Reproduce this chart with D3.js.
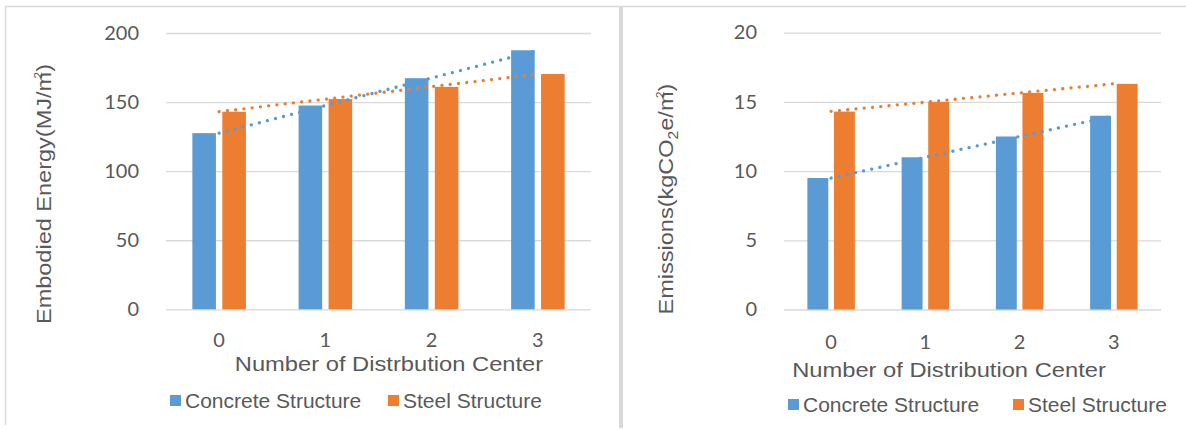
<!DOCTYPE html>
<html>
<head>
<meta charset="utf-8">
<script src="https://cdn.jsdelivr.net/npm/d3@7"></script>
<style>
  html, body { margin: 0; padding: 0; background: #fff; }
  svg { display: block; }
</style>
</head>
<body>
<svg id="chart" width="1186" height="430"></svg>
<script>
// Categories: number of distribution centers
const categories = ["0", "1", "2", "3"];
const seriesNames = ["Concrete Structure", "Steel Structure"];

// Embodied energy (MJ/m²)
const energyConcrete = [127.5, 147.5, 167.3, 187.5];
const energySteel = [143.0, 152.2, 161.0, 170.3];
const energyTicks = [0, 50, 100, 150, 200];

// Emissions (kgCO2e/m²)
const emissionConcrete = [9.5, 11.0, 12.5, 14.0];
const emissionSteel = [14.3, 15.0, 15.65, 16.3];
const emissionTicks = [0, 5, 10, 15, 20];

const colors = ["#5B9BD5", "#ED7D31"];
const textColor = "#595959";
const gridColor = "#D9D9D9";
const titleFont = "'Liberation Sans', Arial, sans-serif";
const tickFont = "Lato, 'Open Sans', sans-serif";

const svg = d3.select("#chart");

// Panel frame
const frame = svg.append("g");
frame.append("line").attr("x1", 5).attr("x2", 1186).attr("y1", 6.5).attr("y2", 6.5)
  .attr("stroke", gridColor).attr("stroke-width", 1.5);
frame.append("line").attr("x1", 5.5).attr("x2", 5.5).attr("y1", 6).attr("y2", 425)
  .attr("stroke", gridColor).attr("stroke-width", 1.5);
frame.append("line").attr("x1", 621).attr("x2", 621).attr("y1", 6).attr("y2", 428)
  .attr("stroke", gridColor).attr("stroke-width", 4);

// Least-squares linear fit over category index
function linearFit(values) {
  const n = values.length;
  const xs = d3.range(n);
  const mx = d3.mean(xs), my = d3.mean(values);
  const sxy = d3.sum(xs, (x, i) => (x - mx) * (values[i] - my));
  const sxx = d3.sum(xs, x => (x - mx) * (x - mx));
  const slope = sxy / sxx;
  return x => my + slope * (x - mx);
}

function drawPanel(cfg) {
  const g = svg.append("g");
  const x = d3.scaleBand().domain(categories).range([cfg.left, cfg.right]).padding(0);
  const bw = x.bandwidth();
  const inner = d3.scaleBand().domain(seriesNames)
    .range([0.248 * bw, 0.752 * bw]).paddingInner(0.213).paddingOuter(0);
  const y = d3.scaleLinear().domain([cfg.ticks[0], cfg.ticks[cfg.ticks.length - 1]])
    .range([cfg.bottom, cfg.top]);

  // Gridlines
  const yAxis = d3.axisLeft(y).tickValues(cfg.ticks).tickSize(-(cfg.right - cfg.left)).tickFormat("");
  const ga = g.append("g").attr("transform", `translate(${cfg.left},0)`).call(yAxis);
  ga.select(".domain").remove();
  ga.selectAll(".tick line").attr("stroke", gridColor).attr("stroke-width", 1.3);

  // Y tick labels
  g.selectAll(".ylab").data(cfg.ticks).join("text")
    .attr("transform", d => `translate(${cfg.left - 27},${y(d) + 6.6}) scale(1.08,1)`)
    .attr("text-anchor", "end")
    .attr("font-family", tickFont).attr("font-size", 18.5)
    .attr("fill", textColor)
    .text(d => d);

  // Bars
  const series = [cfg.a, cfg.b];
  series.forEach((vals, si) => {
    g.selectAll(null).data(vals).join("rect")
      .attr("x", (d, i) => x(categories[i]) + inner(seriesNames[si]))
      .attr("width", inner.bandwidth())
      .attr("y", d => y(d))
      .attr("height", d => y(0) - y(d))
      .attr("fill", colors[si]);
  });

  // Dotted linear trendlines
  series.forEach((vals, si) => {
    const fit = linearFit(vals);
    const n = vals.length - 1;
    const line = d3.line()
      .x(d => x(categories[0]) + bw / 2 + d * bw)
      .y(d => y(fit(d)));
    g.append("path").datum([0, n])
      .attr("d", line)
      .attr("fill", "none")
      .attr("stroke", colors[si])
      .attr("stroke-width", 3.3)
      .attr("stroke-linecap", "round")
      .attr("stroke-dasharray", "0.01 8.3");
  });

  // X tick labels
  g.selectAll(".xlab").data(categories).join("text")
    .attr("transform", d => `translate(${x(d) + bw / 2},${cfg.xTickY}) scale(1.08,1)`)
    .attr("text-anchor", "middle")
    .attr("font-family", tickFont).attr("font-size", 18.5)
    .attr("fill", textColor)
    .text(d => d);

  // X axis title
  g.append("text")
    .attr("transform", `translate(${cfg.xTitleX},${cfg.xTitleY}) scale(1.13,1)`)
    .attr("text-anchor", "middle")
    .attr("font-family", titleFont).attr("font-size", 21)
    .attr("fill", textColor)
    .text(cfg.xTitle);

  // Y axis title
  const yt = g.append("text")
    .attr("transform", `translate(${cfg.yTitleX},${cfg.yTitleY}) rotate(-90) scale(1.12,1)`)
    .attr("text-anchor", "middle")
    .attr("font-family", titleFont).attr("font-size", 21)
    .attr("fill", textColor);
  cfg.yTitle(yt);

  // Legend
  seriesNames.forEach((name, si) => {
    g.append("rect")
      .attr("x", cfg.legend[si]).attr("y", cfg.legendY - 13)
      .attr("width", 11).attr("height", 11)
      .attr("fill", colors[si]);
    g.append("text")
      .attr("x", cfg.legend[si] + 15).attr("y", cfg.legendY)
      .attr("font-family", titleFont).attr("font-size", 21)
      .attr("fill", textColor)
      .text(name);
  });
}

drawPanel({
  left: 166, right: 591, top: 33, bottom: 309.3,
  a: energyConcrete, b: energySteel, ticks: energyTicks,
  xTickY: 346.5,
  xTitle: "Number of Distrbution Center", xTitleX: 389, xTitleY: 370.5,
  yTitleX: 51, yTitleY: 194,
  yTitle: t => {
    t.append("tspan").text("Embodied Energy(MJ/m");
    t.append("tspan").attr("font-size", 11).attr("dx", -6).attr("dy", -9).text("2");
    t.append("tspan").attr("dy", 9).text(")");
  },
  legend: [170, 388], legendY: 408
});

drawPanel({
  left: 784, right: 1161, top: 32.7, bottom: 309.5,
  a: emissionConcrete, b: emissionSteel, ticks: emissionTicks,
  xTickY: 349,
  xTitle: "Number of Distribution Center", xTitleX: 949, xTitleY: 377,
  yTitleX: 673, yTitleY: 199,
  yTitle: t => {
    t.append("tspan").text("Emissions(kgCO");
    t.append("tspan").attr("font-size", 14).attr("dy", 5).text("2");
    t.append("tspan").attr("dy", -5).text("e/m");
    t.append("tspan").attr("font-size", 11).attr("dx", -6).attr("dy", -9).text("2");
    t.append("tspan").attr("dy", 9).text(")");
  },
  legend: [788, 1013], legendY: 412
});
</script>
</body>
</html>
